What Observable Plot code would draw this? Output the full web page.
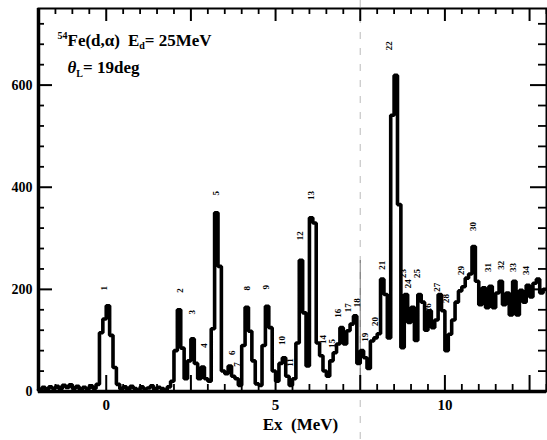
<!DOCTYPE html>
<html>
<head>
<meta charset="utf-8">
<script src="https://cdn.jsdelivr.net/npm/d3@7"></script>
<script src="https://cdn.jsdelivr.net/npm/@observablehq/plot@0.6"></script>
<style>
  html, body { margin: 0; padding: 0; background: #fff; }
  #chart svg { display: block; }
</style>
</head>
<body>
<div id="chart"></div>
<script>
// 54Fe(d,alpha) excitation-energy spectrum, 0.1 MeV bins starting at -2.0 MeV
const binStart = -2.0;
const binWidth = 0.1;
const counts = [
  // -2.0 .. -1.1
  4, 8, 3, 9, 6, 10, 5, 12, 8, 13,
  // -1.0 .. -0.1
  6, 10, 4, 8, 5, 11, 6, 14, 115, 142,
  // 0.0 .. 0.9
  168, 110, 47, 14, 5, 9, 4, 10, 6, 3,
  // 1.0 .. 1.9
  9, 5, 7, 11, 4, 8, 6, 3, 9, 20,
  // 2.0 .. 2.9
  80, 160, 85, 25, 60, 103, 55, 25, 48, 25,
  // 3.0 .. 3.9
  20, 123, 350, 245, 40, 35, 50, 30, 25, 12,
  // 4.0 .. 4.9
  90, 165, 118, 60, 15, 12, 90, 167, 125, 40,
  // 5.0 .. 5.9
  20, 55, 66, 30, 12, 25, 95, 257, 154, 50,
  // 6.0 .. 6.9
  340, 330, 95, 70, 40, 30, 60, 76, 93, 125,
  // 7.0 .. 7.9
  93, 119, 132, 148, 55, 80, 66, 45, 99, 105,
  // 8.0 .. 8.9
  113, 220, 190, 105, 541, 619, 366, 86, 190, 135,
  // 9.0 .. 9.9
  165, 100, 190, 175, 120, 158, 125, 140, 190, 158,
  // 10.0 .. 10.9
  80, 112, 140, 175, 197, 205, 222, 230, 284, 216,
  // 11.0 .. 11.9
  170, 203, 164, 206, 164, 193, 216, 170, 193, 150,
  // 12.0 .. 12.9
  216, 150, 198, 175, 208, 185, 212, 220, 193, 200
];

// Level numbers with their excitation energies (MeV) and label heights (counts)
const levelIds = ["1","2","3","4","5","6","7","8","9","10","11","12","13","14","15","16","17",
  "18","19","20","21","22","23","24","25","26","27","28","29","30","31","32","33","34"];
const levelEx = [-0.06, 2.18, 2.54, 2.89, 3.24, 3.72, 3.86, 4.16, 4.72, 5.19, 5.43, 5.72, 6.05,
  6.40, 6.67, 6.85, 7.14, 7.40, 7.64, 7.94, 8.14, 8.35, 8.76, 8.91, 9.17, 9.50, 9.76, 10.03,
  10.47, 10.83, 11.27, 11.65, 12.00, 12.39];
const levelLabelY = [202, 198, 155, 90, 388, 76, 53, 202, 204, 100, 57, 305, 384, 102, 94, 153,
  164, 174, 106, 137, 247, 677, 231, 211, 231, 164, 204, 182, 237, 323, 243, 247, 243, 237];

// Axis ticks
const xTickLabels = [0, 5, 10];
const xMajorTicks = [0, 2.5, 5, 7.5, 10, 12.5];
const xMinorTicks = d3.range(-2, 13.01, 0.5).filter(v => !xMajorTicks.includes(v));
const yTickLabels = [0, 200, 400, 600];
const yMajorTicks = [0, 200, 400, 600];
const yMinorTicks = d3.range(40, 750, 40).filter(v => !yMajorTicks.includes(v));

// Step outline: bin edges, closed at the upper edge of the last bin
const steps = counts.map((c, i) => ({ex: +(binStart + i * binWidth).toFixed(2), c}));
steps.push({ex: +(binStart + counts.length * binWidth).toFixed(2), c: counts[counts.length - 1]});

const levels = levelIds.map((id, i) => ({id, ex: levelEx[i], y: levelLabelY[i]}));

const W = 547, H = 440;
const mL = 38, mR = 1, mT = 8, mB = 49;
const fw = W - mL - mR, fh = H - mT - mB;
const serif = "'Liberation Serif', 'Times New Roman', serif";

// Measure text to lay out the reaction/angle annotation with sub/superscripts
const ctx = document.createElement("canvas").getContext("2d");
function textWidth(t, size, italic) {
  ctx.font = `${italic ? "italic " : ""}bold ${size}px ${serif}`;
  return ctx.measureText(t).width;
}
function runMarks(pieces, x0) {
  let x = x0;
  return pieces.map(p => {
    const m = Plot.text([p.t], {
      text: d => d, frameAnchor: "top-left", textAnchor: "start", lineAnchor: "bottom",
      dx: x, dy: p.dy, fontSize: p.size, fontWeight: "bold", fontStyle: p.italic ? "italic" : "normal",
      fill: "black"
    });
    x += textWidth(p.t, p.size, p.italic) + (p.gap || 0);
    return m;
  });
}
const line1 = runMarks([
  {t: "54", size: 10, dy: 30},
  {t: "Fe(d,α)", size: 17, dy: 37, gap: 8},
  {t: "E", size: 17, dy: 37},
  {t: "d", size: 10, dy: 40},
  {t: "= 25MeV", size: 17, dy: 37}
], 19);
const line2 = runMarks([
  {t: "θ", size: 17, dy: 64, italic: true},
  {t: "L", size: 10, dy: 68},
  {t: "= 19deg", size: 17, dy: 64}
], 29);

const chart = Plot.plot({
  width: W, height: H,
  marginLeft: mL, marginRight: mR, marginTop: mT, marginBottom: mB,
  style: {fontFamily: serif, fontWeight: "bold", background: "white", color: "black"},
  x: {domain: [-2, 13]},
  y: {domain: [0, 750]},
  marks: [
    // fold line of the sheet
    Plot.ruleX([7.5], {stroke: "#aaa", strokeWidth: 0.8, strokeDasharray: "7,9", insetTop: -mT, insetBottom: -mB}),
    Plot.ruleX([7.5], {stroke: "#555", strokeWidth: 0.8, insetTop: 252}),
    // spectrum
    Plot.line(steps, {x: "ex", y: "c", curve: "step-after", stroke: "black", strokeWidth: 3.6, strokeLinejoin: "miter"}),
    // level labels
    Plot.text(levels, {x: "ex", y: "y", text: "id", rotate: -90, fontSize: 9, fontWeight: "bold", fill: "black"}),
    // frame
    Plot.frame({stroke: "black", strokeWidth: 2}),
    Plot.ruleX([-2], {stroke: "black", strokeWidth: 3.5}),
    Plot.ruleY([0], {stroke: "black", strokeWidth: 3.5}),
    // inward ticks: bottom, top, left, right
    Plot.ruleX(xMajorTicks, {stroke: "black", strokeWidth: 2, insetTop: fh - 16}),
    Plot.ruleX(xMinorTicks, {stroke: "black", strokeWidth: 1.8, insetTop: fh - 7}),
    Plot.ruleX(xMajorTicks, {stroke: "black", strokeWidth: 2, insetBottom: fh - 13}),
    Plot.ruleX(xMinorTicks, {stroke: "black", strokeWidth: 1.8, insetBottom: fh - 6}),
    Plot.ruleY(yMajorTicks, {stroke: "black", strokeWidth: 2, insetRight: fw - 14}),
    Plot.ruleY(yMinorTicks, {stroke: "black", strokeWidth: 1.8, insetRight: fw - 6}),
    Plot.ruleY(yMajorTicks, {stroke: "black", strokeWidth: 2, insetLeft: fw - 16}),
    Plot.ruleY(yMinorTicks, {stroke: "black", strokeWidth: 1.8, insetLeft: fw - 8}),
    // tick labels
    Plot.axisX(xTickLabels, {tickSize: 0, tickPadding: 8, fontSize: 15, fontWeight: "bold", label: null}),
    Plot.axisY(yTickLabels, {tickSize: 0, tickPadding: 6, fontSize: 14, fontWeight: "bold", label: null}),
    Plot.text(["Ex  (MeV)"], {text: d => d, frameAnchor: "bottom", dx: 8, dy: 38, lineAnchor: "bottom",
      fontSize: 17, fontWeight: "bold", fill: "black"}),
    ...line1,
    ...line2
  ]
});
document.getElementById("chart").appendChild(chart);
</script>
</body>
</html>
